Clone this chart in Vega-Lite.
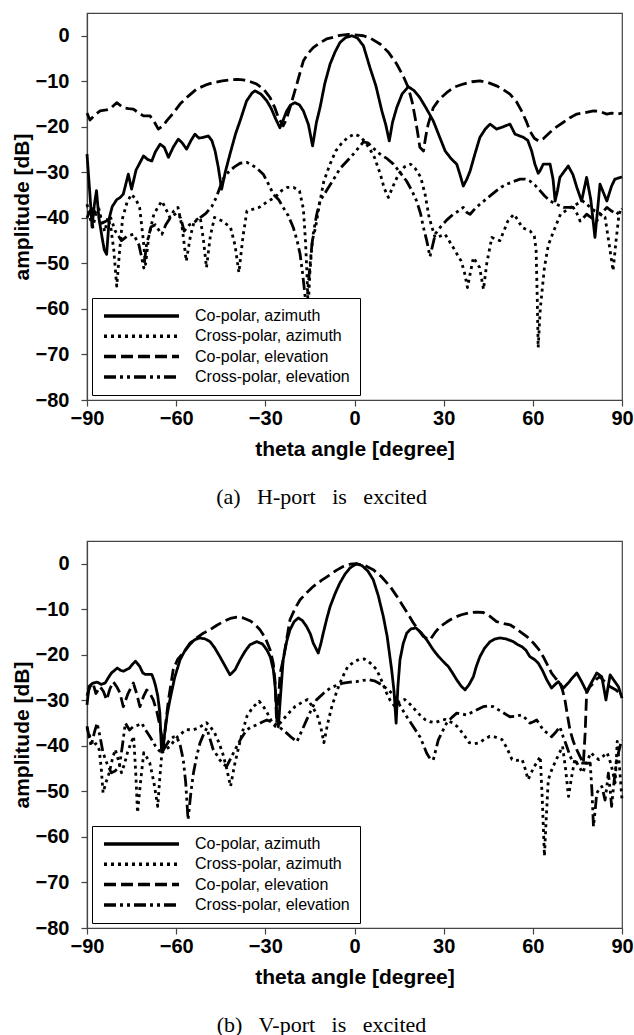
{
  "$schema": "https://vega.github.io/schema/vega-lite/v6.json",
  "padding": {"left": 10, "top": 12, "right": 5, "bottom": 0},
  "config": {
    "font": "Liberation Sans",
    "view": {"stroke": "#444", "strokeWidth": 1.2},
    "axis": {
      "grid": false,
      "labelFont": "Liberation Sans", "labelFontSize": 20, "labelFontWeight": "bold", "labelColor": "#000",
      "titleFont": "Liberation Sans", "titleFontSize": 21, "titleFontWeight": "bold", "titleColor": "#000",
      "tickSize": 6, "tickColor": "#444", "tickWidth": 1.2, "domainColor": "#444", "domainWidth": 1.2,
      "labelFlush": false, "labelOverlap": false
    },
    "axisX": {"labelPadding": 2, "titlePadding": 10},
    "axisY": {"labelPadding": 12, "titlePadding": 3},
    "concat": {"spacing": 31}
  },
  "datasets": {
    "a": [
      {"series": "Co-polar, azimuth", "theta": -90, "dB": -26}, {"series": "Co-polar, azimuth", "theta": -89, "dB": -35}, {"series": "Co-polar, azimuth", "theta": -88.3, "dB": -42}, {"series": "Co-polar, azimuth", "theta": -87.5, "dB": -37}, {"series": "Co-polar, azimuth", "theta": -86.8, "dB": -34}, {"series": "Co-polar, azimuth", "theta": -86, "dB": -40}, {"series": "Co-polar, azimuth", "theta": -85, "dB": -44}, {"series": "Co-polar, azimuth", "theta": -84.2, "dB": -47}, {"series": "Co-polar, azimuth", "theta": -83.4, "dB": -48}, {"series": "Co-polar, azimuth", "theta": -82.5, "dB": -40}, {"series": "Co-polar, azimuth", "theta": -81.5, "dB": -37.5}, {"series": "Co-polar, azimuth", "theta": -80, "dB": -36}, {"series": "Co-polar, azimuth", "theta": -78.8, "dB": -35.5}, {"series": "Co-polar, azimuth", "theta": -77.8, "dB": -34.8}, {"series": "Co-polar, azimuth", "theta": -76.1, "dB": -30.4}, {"series": "Co-polar, azimuth", "theta": -75, "dB": -33.7}, {"series": "Co-polar, azimuth", "theta": -73.5, "dB": -29.5}, {"series": "Co-polar, azimuth", "theta": -71, "dB": -26.4}, {"series": "Co-polar, azimuth", "theta": -69.5, "dB": -27.2}, {"series": "Co-polar, azimuth", "theta": -68.2, "dB": -27.5}, {"series": "Co-polar, azimuth", "theta": -67, "dB": -25.5}, {"series": "Co-polar, azimuth", "theta": -65.4, "dB": -23.8}, {"series": "Co-polar, azimuth", "theta": -64, "dB": -24.5}, {"series": "Co-polar, azimuth", "theta": -62.6, "dB": -26.7}, {"series": "Co-polar, azimuth", "theta": -61, "dB": -24.5}, {"series": "Co-polar, azimuth", "theta": -59.3, "dB": -22.7}, {"series": "Co-polar, azimuth", "theta": -58, "dB": -23.5}, {"series": "Co-polar, azimuth", "theta": -56.5, "dB": -24.9}, {"series": "Co-polar, azimuth", "theta": -55, "dB": -23}, {"series": "Co-polar, azimuth", "theta": -53.7, "dB": -21.6}, {"series": "Co-polar, azimuth", "theta": -52.3, "dB": -22.5}, {"series": "Co-polar, azimuth", "theta": -50.9, "dB": -22.3}, {"series": "Co-polar, azimuth", "theta": -49.2, "dB": -22}, {"series": "Co-polar, azimuth", "theta": -48, "dB": -23}, {"series": "Co-polar, azimuth", "theta": -46.9, "dB": -25.3}, {"series": "Co-polar, azimuth", "theta": -45.8, "dB": -29}, {"series": "Co-polar, azimuth", "theta": -44.7, "dB": -33.7}, {"series": "Co-polar, azimuth", "theta": -43.5, "dB": -30}, {"series": "Co-polar, azimuth", "theta": -41.9, "dB": -26}, {"series": "Co-polar, azimuth", "theta": -40, "dB": -21.5}, {"series": "Co-polar, azimuth", "theta": -38.5, "dB": -18.7}, {"series": "Co-polar, azimuth", "theta": -36.3, "dB": -14.3}, {"series": "Co-polar, azimuth", "theta": -34.5, "dB": -12.6}, {"series": "Co-polar, azimuth", "theta": -33.5, "dB": -12.1}, {"series": "Co-polar, azimuth", "theta": -31.5, "dB": -12.8}, {"series": "Co-polar, azimuth", "theta": -29.5, "dB": -14.3}, {"series": "Co-polar, azimuth", "theta": -28, "dB": -16}, {"series": "Co-polar, azimuth", "theta": -26.7, "dB": -18}, {"series": "Co-polar, azimuth", "theta": -25.1, "dB": -20.2}, {"series": "Co-polar, azimuth", "theta": -24, "dB": -18.5}, {"series": "Co-polar, azimuth", "theta": -22.8, "dB": -16.5}, {"series": "Co-polar, azimuth", "theta": -21.5, "dB": -15.2}, {"series": "Co-polar, azimuth", "theta": -20, "dB": -14.7}, {"series": "Co-polar, azimuth", "theta": -18.5, "dB": -15.2}, {"series": "Co-polar, azimuth", "theta": -17.2, "dB": -16.5}, {"series": "Co-polar, azimuth", "theta": -15.5, "dB": -19.5}, {"series": "Co-polar, azimuth", "theta": -14.1, "dB": -24.2}, {"series": "Co-polar, azimuth", "theta": -12.8, "dB": -19}, {"series": "Co-polar, azimuth", "theta": -11.6, "dB": -15.8}, {"series": "Co-polar, azimuth", "theta": -10, "dB": -10.5}, {"series": "Co-polar, azimuth", "theta": -8.2, "dB": -6.2}, {"series": "Co-polar, azimuth", "theta": -6.5, "dB": -3.5}, {"series": "Co-polar, azimuth", "theta": -4.9, "dB": -1.5}, {"series": "Co-polar, azimuth", "theta": -3, "dB": -0.4}, {"series": "Co-polar, azimuth", "theta": -0.9, "dB": 0}, {"series": "Co-polar, azimuth", "theta": 1, "dB": -0.5}, {"series": "Co-polar, azimuth", "theta": 3, "dB": -2.2}, {"series": "Co-polar, azimuth", "theta": 5.2, "dB": -7}, {"series": "Co-polar, azimuth", "theta": 7.2, "dB": -11}, {"series": "Co-polar, azimuth", "theta": 9.2, "dB": -16.5}, {"series": "Co-polar, azimuth", "theta": 10.5, "dB": -19.5}, {"series": "Co-polar, azimuth", "theta": 11.7, "dB": -23.1}, {"series": "Co-polar, azimuth", "theta": 12.8, "dB": -19}, {"series": "Co-polar, azimuth", "theta": 14.2, "dB": -15.8}, {"series": "Co-polar, azimuth", "theta": 16, "dB": -12.8}, {"series": "Co-polar, azimuth", "theta": 18.1, "dB": -11.2}, {"series": "Co-polar, azimuth", "theta": 20, "dB": -12}, {"series": "Co-polar, azimuth", "theta": 22, "dB": -13.6}, {"series": "Co-polar, azimuth", "theta": 24.2, "dB": -16}, {"series": "Co-polar, azimuth", "theta": 26.5, "dB": -18.7}, {"series": "Co-polar, azimuth", "theta": 28.5, "dB": -22}, {"series": "Co-polar, azimuth", "theta": 30.5, "dB": -25.3}, {"series": "Co-polar, azimuth", "theta": 32.5, "dB": -27}, {"series": "Co-polar, azimuth", "theta": 34.4, "dB": -28.2}, {"series": "Co-polar, azimuth", "theta": 35.5, "dB": -30.5}, {"series": "Co-polar, azimuth", "theta": 36.6, "dB": -33}, {"series": "Co-polar, azimuth", "theta": 37.8, "dB": -31.5}, {"series": "Co-polar, azimuth", "theta": 38.9, "dB": -29.7}, {"series": "Co-polar, azimuth", "theta": 40.5, "dB": -26}, {"series": "Co-polar, azimuth", "theta": 42.2, "dB": -22.3}, {"series": "Co-polar, azimuth", "theta": 44, "dB": -20.5}, {"series": "Co-polar, azimuth", "theta": 45.6, "dB": -19.4}, {"series": "Co-polar, azimuth", "theta": 47.8, "dB": -20.5}, {"series": "Co-polar, azimuth", "theta": 50, "dB": -20}, {"series": "Co-polar, azimuth", "theta": 52.3, "dB": -19.4}, {"series": "Co-polar, azimuth", "theta": 54, "dB": -21.6}, {"series": "Co-polar, azimuth", "theta": 56.8, "dB": -22.3}, {"series": "Co-polar, azimuth", "theta": 58.3, "dB": -23}, {"series": "Co-polar, azimuth", "theta": 59.6, "dB": -25.3}, {"series": "Co-polar, azimuth", "theta": 60.7, "dB": -28.2}, {"series": "Co-polar, azimuth", "theta": 61.8, "dB": -30.2}, {"series": "Co-polar, azimuth", "theta": 62.4, "dB": -29.7}, {"series": "Co-polar, azimuth", "theta": 63.5, "dB": -28.2}, {"series": "Co-polar, azimuth", "theta": 65.8, "dB": -28.2}, {"series": "Co-polar, azimuth", "theta": 66.8, "dB": -31.5}, {"series": "Co-polar, azimuth", "theta": 67.5, "dB": -36.3}, {"series": "Co-polar, azimuth", "theta": 68.3, "dB": -34}, {"series": "Co-polar, azimuth", "theta": 69.1, "dB": -31.1}, {"series": "Co-polar, azimuth", "theta": 71.9, "dB": -28.6}, {"series": "Co-polar, azimuth", "theta": 73.5, "dB": -30.5}, {"series": "Co-polar, azimuth", "theta": 74.8, "dB": -33.3}, {"series": "Co-polar, azimuth", "theta": 76.4, "dB": -36.3}, {"series": "Co-polar, azimuth", "theta": 78.1, "dB": -31.1}, {"series": "Co-polar, azimuth", "theta": 79.5, "dB": -36}, {"series": "Co-polar, azimuth", "theta": 80.9, "dB": -44.3}, {"series": "Co-polar, azimuth", "theta": 82.6, "dB": -32.6}, {"series": "Co-polar, azimuth", "theta": 84.9, "dB": -36.3}, {"series": "Co-polar, azimuth", "theta": 86.5, "dB": -33}, {"series": "Co-polar, azimuth", "theta": 87.6, "dB": -31.5}, {"series": "Co-polar, azimuth", "theta": 90, "dB": -31},

      {"series": "Cross-polar, azimuth", "theta": -90, "dB": -37}, {"series": "Cross-polar, azimuth", "theta": -89, "dB": -40}, {"series": "Cross-polar, azimuth", "theta": -88, "dB": -42}, {"series": "Cross-polar, azimuth", "theta": -87, "dB": -39}, {"series": "Cross-polar, azimuth", "theta": -86, "dB": -38}, {"series": "Cross-polar, azimuth", "theta": -85, "dB": -41}, {"series": "Cross-polar, azimuth", "theta": -84, "dB": -43}, {"series": "Cross-polar, azimuth", "theta": -83, "dB": -40}, {"series": "Cross-polar, azimuth", "theta": -82, "dB": -42}, {"series": "Cross-polar, azimuth", "theta": -81, "dB": -47}, {"series": "Cross-polar, azimuth", "theta": -80, "dB": -55}, {"series": "Cross-polar, azimuth", "theta": -79, "dB": -47}, {"series": "Cross-polar, azimuth", "theta": -78, "dB": -40}, {"series": "Cross-polar, azimuth", "theta": -76.5, "dB": -36.5}, {"series": "Cross-polar, azimuth", "theta": -75, "dB": -34.8}, {"series": "Cross-polar, azimuth", "theta": -73.5, "dB": -36}, {"series": "Cross-polar, azimuth", "theta": -72.3, "dB": -37.7}, {"series": "Cross-polar, azimuth", "theta": -71.2, "dB": -44}, {"series": "Cross-polar, azimuth", "theta": -70.3, "dB": -50.2}, {"series": "Cross-polar, azimuth", "theta": -69.2, "dB": -44}, {"series": "Cross-polar, azimuth", "theta": -67.5, "dB": -39.2}, {"series": "Cross-polar, azimuth", "theta": -66, "dB": -37.5}, {"series": "Cross-polar, azimuth", "theta": -64.8, "dB": -36.3}, {"series": "Cross-polar, azimuth", "theta": -63.5, "dB": -38}, {"series": "Cross-polar, azimuth", "theta": -62.1, "dB": -39.9}, {"series": "Cross-polar, azimuth", "theta": -60.8, "dB": -38.5}, {"series": "Cross-polar, azimuth", "theta": -59.4, "dB": -37.7}, {"series": "Cross-polar, azimuth", "theta": -58, "dB": -42}, {"series": "Cross-polar, azimuth", "theta": -56.6, "dB": -49.5}, {"series": "Cross-polar, azimuth", "theta": -55.2, "dB": -44}, {"series": "Cross-polar, azimuth", "theta": -53.9, "dB": -40.7}, {"series": "Cross-polar, azimuth", "theta": -51.9, "dB": -39.9}, {"series": "Cross-polar, azimuth", "theta": -50.8, "dB": -45}, {"series": "Cross-polar, azimuth", "theta": -49.8, "dB": -50.9}, {"series": "Cross-polar, azimuth", "theta": -48.5, "dB": -44}, {"series": "Cross-polar, azimuth", "theta": -47.1, "dB": -39.9}, {"series": "Cross-polar, azimuth", "theta": -44.4, "dB": -40.7}, {"series": "Cross-polar, azimuth", "theta": -41.7, "dB": -42.1}, {"series": "Cross-polar, azimuth", "theta": -40.2, "dB": -46}, {"series": "Cross-polar, azimuth", "theta": -38.9, "dB": -52}, {"series": "Cross-polar, azimuth", "theta": -37.5, "dB": -44}, {"series": "Cross-polar, azimuth", "theta": -36.2, "dB": -38.5}, {"series": "Cross-polar, azimuth", "theta": -32.1, "dB": -37.7}, {"series": "Cross-polar, azimuth", "theta": -29.5, "dB": -36.5}, {"series": "Cross-polar, azimuth", "theta": -26.7, "dB": -35.5}, {"series": "Cross-polar, azimuth", "theta": -24.5, "dB": -34}, {"series": "Cross-polar, azimuth", "theta": -22.6, "dB": -33.3}, {"series": "Cross-polar, azimuth", "theta": -20.5, "dB": -33.3}, {"series": "Cross-polar, azimuth", "theta": -18.5, "dB": -34.1}, {"series": "Cross-polar, azimuth", "theta": -17.2, "dB": -38}, {"series": "Cross-polar, azimuth", "theta": -16.5, "dB": -45}, {"series": "Cross-polar, azimuth", "theta": -16, "dB": -52}, {"series": "Cross-polar, azimuth", "theta": -15.6, "dB": -60}, {"series": "Cross-polar, azimuth", "theta": -15, "dB": -52}, {"series": "Cross-polar, azimuth", "theta": -14.2, "dB": -45}, {"series": "Cross-polar, azimuth", "theta": -13.1, "dB": -42.1}, {"series": "Cross-polar, azimuth", "theta": -11.8, "dB": -37}, {"series": "Cross-polar, azimuth", "theta": -10.3, "dB": -31.9}, {"series": "Cross-polar, azimuth", "theta": -8.3, "dB": -28.3}, {"series": "Cross-polar, azimuth", "theta": -6.3, "dB": -25.3}, {"series": "Cross-polar, azimuth", "theta": -4.2, "dB": -23.5}, {"series": "Cross-polar, azimuth", "theta": -2.2, "dB": -22.3}, {"series": "Cross-polar, azimuth", "theta": 0, "dB": -21.6}, {"series": "Cross-polar, azimuth", "theta": 1.5, "dB": -22}, {"series": "Cross-polar, azimuth", "theta": 3.3, "dB": -23.1}, {"series": "Cross-polar, azimuth", "theta": 5, "dB": -24.7}, {"series": "Cross-polar, azimuth", "theta": 6.7, "dB": -26.7}, {"series": "Cross-polar, azimuth", "theta": 8.7, "dB": -30.4}, {"series": "Cross-polar, azimuth", "theta": 10, "dB": -33.5}, {"series": "Cross-polar, azimuth", "theta": 11.4, "dB": -35.5}, {"series": "Cross-polar, azimuth", "theta": 13, "dB": -33}, {"series": "Cross-polar, azimuth", "theta": 14.8, "dB": -30.4}, {"series": "Cross-polar, azimuth", "theta": 16.8, "dB": -28.8}, {"series": "Cross-polar, azimuth", "theta": 18.9, "dB": -28.2}, {"series": "Cross-polar, azimuth", "theta": 20.5, "dB": -29.2}, {"series": "Cross-polar, azimuth", "theta": 22.3, "dB": -31.1}, {"series": "Cross-polar, azimuth", "theta": 23.8, "dB": -35}, {"series": "Cross-polar, azimuth", "theta": 25.1, "dB": -39.9}, {"series": "Cross-polar, azimuth", "theta": 27.1, "dB": -44.3}, {"series": "Cross-polar, azimuth", "theta": 28.8, "dB": -44}, {"series": "Cross-polar, azimuth", "theta": 30.5, "dB": -43.6}, {"series": "Cross-polar, azimuth", "theta": 33.2, "dB": -46.5}, {"series": "Cross-polar, azimuth", "theta": 35.9, "dB": -49.5}, {"series": "Cross-polar, azimuth", "theta": 37, "dB": -52}, {"series": "Cross-polar, azimuth", "theta": 38, "dB": -55.3}, {"series": "Cross-polar, azimuth", "theta": 39, "dB": -52}, {"series": "Cross-polar, azimuth", "theta": 40, "dB": -48.7}, {"series": "Cross-polar, azimuth", "theta": 42.1, "dB": -50.9}, {"series": "Cross-polar, azimuth", "theta": 43.4, "dB": -55.7}, {"series": "Cross-polar, azimuth", "theta": 44.5, "dB": -50}, {"series": "Cross-polar, azimuth", "theta": 46.2, "dB": -44.3}, {"series": "Cross-polar, azimuth", "theta": 48.9, "dB": -45}, {"series": "Cross-polar, azimuth", "theta": 50.5, "dB": -42.5}, {"series": "Cross-polar, azimuth", "theta": 51.6, "dB": -40.7}, {"series": "Cross-polar, azimuth", "theta": 53.6, "dB": -39.2}, {"series": "Cross-polar, azimuth", "theta": 55, "dB": -40.5}, {"series": "Cross-polar, azimuth", "theta": 56.4, "dB": -42.1}, {"series": "Cross-polar, azimuth", "theta": 59.1, "dB": -42.9}, {"series": "Cross-polar, azimuth", "theta": 60.5, "dB": -44}, {"series": "Cross-polar, azimuth", "theta": 61.1, "dB": -47}, {"series": "Cross-polar, azimuth", "theta": 61.5, "dB": -58}, {"series": "Cross-polar, azimuth", "theta": 61.8, "dB": -68.5}, {"series": "Cross-polar, azimuth", "theta": 62.5, "dB": -60}, {"series": "Cross-polar, azimuth", "theta": 63.9, "dB": -50.9}, {"series": "Cross-polar, azimuth", "theta": 65.2, "dB": -46}, {"series": "Cross-polar, azimuth", "theta": 66.6, "dB": -43.6}, {"series": "Cross-polar, azimuth", "theta": 69.3, "dB": -39.2}, {"series": "Cross-polar, azimuth", "theta": 72.7, "dB": -37.7}, {"series": "Cross-polar, azimuth", "theta": 76.8, "dB": -36.3}, {"series": "Cross-polar, azimuth", "theta": 79, "dB": -37.5}, {"series": "Cross-polar, azimuth", "theta": 80.9, "dB": -38.5}, {"series": "Cross-polar, azimuth", "theta": 82.5, "dB": -39}, {"series": "Cross-polar, azimuth", "theta": 84.3, "dB": -39.9}, {"series": "Cross-polar, azimuth", "theta": 85.5, "dB": -45}, {"series": "Cross-polar, azimuth", "theta": 87, "dB": -51.6}, {"series": "Cross-polar, azimuth", "theta": 88, "dB": -45}, {"series": "Cross-polar, azimuth", "theta": 89, "dB": -39.2}, {"series": "Cross-polar, azimuth", "theta": 90, "dB": -37.7},

      {"series": "Co-polar, elevation", "theta": -90, "dB": -17}, {"series": "Co-polar, elevation", "theta": -89, "dB": -18.5}, {"series": "Co-polar, elevation", "theta": -87.5, "dB": -17.5}, {"series": "Co-polar, elevation", "theta": -85.6, "dB": -16.5}, {"series": "Co-polar, elevation", "theta": -83.5, "dB": -16.3}, {"series": "Co-polar, elevation", "theta": -82.3, "dB": -16.1}, {"series": "Co-polar, elevation", "theta": -80, "dB": -14.7}, {"series": "Co-polar, elevation", "theta": -77.8, "dB": -15.8}, {"series": "Co-polar, elevation", "theta": -76, "dB": -16}, {"series": "Co-polar, elevation", "theta": -74.4, "dB": -16.1}, {"series": "Co-polar, elevation", "theta": -72.5, "dB": -17}, {"series": "Co-polar, elevation", "theta": -71, "dB": -17.6}, {"series": "Co-polar, elevation", "theta": -68.8, "dB": -17.6}, {"series": "Co-polar, elevation", "theta": -67.3, "dB": -19}, {"series": "Co-polar, elevation", "theta": -66, "dB": -20.5}, {"series": "Co-polar, elevation", "theta": -64.5, "dB": -19.8}, {"series": "Co-polar, elevation", "theta": -63.2, "dB": -18.7}, {"series": "Co-polar, elevation", "theta": -61, "dB": -17}, {"series": "Co-polar, elevation", "theta": -58.7, "dB": -15}, {"series": "Co-polar, elevation", "theta": -56, "dB": -13.3}, {"series": "Co-polar, elevation", "theta": -53.1, "dB": -11.7}, {"series": "Co-polar, elevation", "theta": -50, "dB": -10.8}, {"series": "Co-polar, elevation", "theta": -47.5, "dB": -10.3}, {"series": "Co-polar, elevation", "theta": -44.5, "dB": -9.9}, {"series": "Co-polar, elevation", "theta": -41.9, "dB": -9.7}, {"series": "Co-polar, elevation", "theta": -39.5, "dB": -9.6}, {"series": "Co-polar, elevation", "theta": -37.4, "dB": -9.7}, {"series": "Co-polar, elevation", "theta": -35, "dB": -10.1}, {"series": "Co-polar, elevation", "theta": -32.9, "dB": -10.6}, {"series": "Co-polar, elevation", "theta": -30.5, "dB": -11.8}, {"series": "Co-polar, elevation", "theta": -28.4, "dB": -13.6}, {"series": "Co-polar, elevation", "theta": -26.8, "dB": -15.8}, {"series": "Co-polar, elevation", "theta": -25.6, "dB": -18}, {"series": "Co-polar, elevation", "theta": -24, "dB": -19.8}, {"series": "Co-polar, elevation", "theta": -23, "dB": -18.5}, {"series": "Co-polar, elevation", "theta": -21.7, "dB": -15.8}, {"series": "Co-polar, elevation", "theta": -19.4, "dB": -10.6}, {"series": "Co-polar, elevation", "theta": -17.2, "dB": -5.5}, {"series": "Co-polar, elevation", "theta": -15.5, "dB": -3.8}, {"series": "Co-polar, elevation", "theta": -13.9, "dB": -2.6}, {"series": "Co-polar, elevation", "theta": -11.5, "dB": -1.5}, {"series": "Co-polar, elevation", "theta": -9.4, "dB": -0.7}, {"series": "Co-polar, elevation", "theta": -7, "dB": -0.3}, {"series": "Co-polar, elevation", "theta": -4.9, "dB": 0.1}, {"series": "Co-polar, elevation", "theta": -2, "dB": 0.3}, {"series": "Co-polar, elevation", "theta": 0, "dB": 0.2}, {"series": "Co-polar, elevation", "theta": 3, "dB": 0}, {"series": "Co-polar, elevation", "theta": 5.5, "dB": -0.6}, {"series": "Co-polar, elevation", "theta": 8.6, "dB": -1.8}, {"series": "Co-polar, elevation", "theta": 11.5, "dB": -3.7}, {"series": "Co-polar, elevation", "theta": 14.2, "dB": -6.2}, {"series": "Co-polar, elevation", "theta": 16.5, "dB": -9}, {"series": "Co-polar, elevation", "theta": 18.1, "dB": -11.4}, {"series": "Co-polar, elevation", "theta": 19.4, "dB": -14.5}, {"series": "Co-polar, elevation", "theta": 20.4, "dB": -18}, {"series": "Co-polar, elevation", "theta": 21.3, "dB": -21.5}, {"series": "Co-polar, elevation", "theta": 22, "dB": -24.5}, {"series": "Co-polar, elevation", "theta": 23.2, "dB": -25.3}, {"series": "Co-polar, elevation", "theta": 24, "dB": -22}, {"series": "Co-polar, elevation", "theta": 24.8, "dB": -19.4}, {"series": "Co-polar, elevation", "theta": 26.5, "dB": -15.8}, {"series": "Co-polar, elevation", "theta": 28.5, "dB": -14}, {"series": "Co-polar, elevation", "theta": 31, "dB": -12.5}, {"series": "Co-polar, elevation", "theta": 33.5, "dB": -11.3}, {"series": "Co-polar, elevation", "theta": 36.6, "dB": -10.6}, {"series": "Co-polar, elevation", "theta": 39.5, "dB": -10.1}, {"series": "Co-polar, elevation", "theta": 42.2, "dB": -9.9}, {"series": "Co-polar, elevation", "theta": 45, "dB": -10.3}, {"series": "Co-polar, elevation", "theta": 47.8, "dB": -11}, {"series": "Co-polar, elevation", "theta": 50, "dB": -11.8}, {"series": "Co-polar, elevation", "theta": 52.3, "dB": -12.8}, {"series": "Co-polar, elevation", "theta": 54.5, "dB": -14.5}, {"series": "Co-polar, elevation", "theta": 56.2, "dB": -16.5}, {"series": "Co-polar, elevation", "theta": 57.8, "dB": -18.8}, {"series": "Co-polar, elevation", "theta": 59, "dB": -20.9}, {"series": "Co-polar, elevation", "theta": 60.5, "dB": -22.5}, {"series": "Co-polar, elevation", "theta": 61.9, "dB": -23.1}, {"series": "Co-polar, elevation", "theta": 63.5, "dB": -22.6}, {"series": "Co-polar, elevation", "theta": 65.8, "dB": -21.2}, {"series": "Co-polar, elevation", "theta": 68, "dB": -20}, {"series": "Co-polar, elevation", "theta": 70.3, "dB": -19}, {"series": "Co-polar, elevation", "theta": 72.5, "dB": -18}, {"series": "Co-polar, elevation", "theta": 74.8, "dB": -17.2}, {"series": "Co-polar, elevation", "theta": 77.5, "dB": -16.9}, {"series": "Co-polar, elevation", "theta": 80.4, "dB": -16.5}, {"series": "Co-polar, elevation", "theta": 82.5, "dB": -16.6}, {"series": "Co-polar, elevation", "theta": 84.9, "dB": -17.2}, {"series": "Co-polar, elevation", "theta": 86.5, "dB": -17}, {"series": "Co-polar, elevation", "theta": 88.2, "dB": -17.2}, {"series": "Co-polar, elevation", "theta": 90, "dB": -17},

      {"series": "Cross-polar, elevation", "theta": -90, "dB": -40}, {"series": "Cross-polar, elevation", "theta": -89, "dB": -38.5}, {"series": "Cross-polar, elevation", "theta": -88, "dB": -37.7}, {"series": "Cross-polar, elevation", "theta": -87, "dB": -39}, {"series": "Cross-polar, elevation", "theta": -85.9, "dB": -39.2}, {"series": "Cross-polar, elevation", "theta": -84.5, "dB": -41}, {"series": "Cross-polar, elevation", "theta": -83, "dB": -40.5}, {"series": "Cross-polar, elevation", "theta": -82, "dB": -40}, {"series": "Cross-polar, elevation", "theta": -80.5, "dB": -42.9}, {"series": "Cross-polar, elevation", "theta": -78.4, "dB": -45}, {"series": "Cross-polar, elevation", "theta": -76.5, "dB": -44}, {"series": "Cross-polar, elevation", "theta": -74.3, "dB": -43.6}, {"series": "Cross-polar, elevation", "theta": -72.5, "dB": -46}, {"series": "Cross-polar, elevation", "theta": -71.5, "dB": -49}, {"series": "Cross-polar, elevation", "theta": -70.9, "dB": -51}, {"series": "Cross-polar, elevation", "theta": -70, "dB": -46}, {"series": "Cross-polar, elevation", "theta": -68.5, "dB": -42}, {"series": "Cross-polar, elevation", "theta": -67, "dB": -41.5}, {"series": "Cross-polar, elevation", "theta": -65.5, "dB": -43}, {"series": "Cross-polar, elevation", "theta": -64.8, "dB": -43.6}, {"series": "Cross-polar, elevation", "theta": -63.5, "dB": -41.5}, {"series": "Cross-polar, elevation", "theta": -62, "dB": -40}, {"series": "Cross-polar, elevation", "theta": -60, "dB": -39}, {"series": "Cross-polar, elevation", "theta": -58.5, "dB": -40}, {"series": "Cross-polar, elevation", "theta": -57.3, "dB": -42.9}, {"series": "Cross-polar, elevation", "theta": -55.5, "dB": -41.5}, {"series": "Cross-polar, elevation", "theta": -54, "dB": -41}, {"series": "Cross-polar, elevation", "theta": -52, "dB": -40}, {"series": "Cross-polar, elevation", "theta": -50, "dB": -39}, {"series": "Cross-polar, elevation", "theta": -48, "dB": -37.5}, {"series": "Cross-polar, elevation", "theta": -46.5, "dB": -35.5}, {"series": "Cross-polar, elevation", "theta": -45.1, "dB": -33}, {"series": "Cross-polar, elevation", "theta": -44.4, "dB": -31.6}, {"series": "Cross-polar, elevation", "theta": -42.5, "dB": -30}, {"series": "Cross-polar, elevation", "theta": -40.4, "dB": -28.8}, {"series": "Cross-polar, elevation", "theta": -38.5, "dB": -28}, {"series": "Cross-polar, elevation", "theta": -36.3, "dB": -27.8}, {"series": "Cross-polar, elevation", "theta": -35, "dB": -28.2}, {"series": "Cross-polar, elevation", "theta": -33, "dB": -29}, {"series": "Cross-polar, elevation", "theta": -30.7, "dB": -30.4}, {"series": "Cross-polar, elevation", "theta": -29, "dB": -32.5}, {"series": "Cross-polar, elevation", "theta": -27.3, "dB": -34.8}, {"series": "Cross-polar, elevation", "theta": -25.5, "dB": -36}, {"series": "Cross-polar, elevation", "theta": -24, "dB": -37.7}, {"series": "Cross-polar, elevation", "theta": -22.3, "dB": -39.5}, {"series": "Cross-polar, elevation", "theta": -20.6, "dB": -42.1}, {"series": "Cross-polar, elevation", "theta": -19.3, "dB": -45}, {"series": "Cross-polar, elevation", "theta": -18.3, "dB": -48}, {"series": "Cross-polar, elevation", "theta": -17.5, "dB": -52}, {"series": "Cross-polar, elevation", "theta": -16.7, "dB": -56.7}, {"series": "Cross-polar, elevation", "theta": -16.2, "dB": -60}, {"series": "Cross-polar, elevation", "theta": -15.2, "dB": -52}, {"series": "Cross-polar, elevation", "theta": -14.5, "dB": -47}, {"series": "Cross-polar, elevation", "theta": -13.9, "dB": -43.6}, {"series": "Cross-polar, elevation", "theta": -12.8, "dB": -39.5}, {"series": "Cross-polar, elevation", "theta": -11.6, "dB": -36.3}, {"series": "Cross-polar, elevation", "theta": -9.4, "dB": -34}, {"series": "Cross-polar, elevation", "theta": -7, "dB": -31.5}, {"series": "Cross-polar, elevation", "theta": -4.9, "dB": -29.2}, {"series": "Cross-polar, elevation", "theta": -2.5, "dB": -27.5}, {"series": "Cross-polar, elevation", "theta": -0.4, "dB": -26}, {"series": "Cross-polar, elevation", "theta": 1.5, "dB": -24.5}, {"series": "Cross-polar, elevation", "theta": 3, "dB": -23.3}, {"series": "Cross-polar, elevation", "theta": 4.5, "dB": -23.5}, {"series": "Cross-polar, elevation", "theta": 6.5, "dB": -24.8}, {"series": "Cross-polar, elevation", "theta": 8.6, "dB": -26}, {"series": "Cross-polar, elevation", "theta": 11, "dB": -27}, {"series": "Cross-polar, elevation", "theta": 13.1, "dB": -28.2}, {"series": "Cross-polar, elevation", "theta": 15.3, "dB": -30}, {"series": "Cross-polar, elevation", "theta": 17.5, "dB": -31.9}, {"series": "Cross-polar, elevation", "theta": 19.3, "dB": -34}, {"series": "Cross-polar, elevation", "theta": 20.9, "dB": -36.3}, {"series": "Cross-polar, elevation", "theta": 22.2, "dB": -39}, {"series": "Cross-polar, elevation", "theta": 23.2, "dB": -42.1}, {"series": "Cross-polar, elevation", "theta": 24.3, "dB": -45}, {"series": "Cross-polar, elevation", "theta": 25.4, "dB": -48.5}, {"series": "Cross-polar, elevation", "theta": 26.3, "dB": -46}, {"series": "Cross-polar, elevation", "theta": 27.2, "dB": -43.5}, {"series": "Cross-polar, elevation", "theta": 28.8, "dB": -42.1}, {"series": "Cross-polar, elevation", "theta": 31, "dB": -40.5}, {"series": "Cross-polar, elevation", "theta": 33.2, "dB": -39.2}, {"series": "Cross-polar, elevation", "theta": 35, "dB": -38.5}, {"series": "Cross-polar, elevation", "theta": 36.6, "dB": -37.7}, {"series": "Cross-polar, elevation", "theta": 37.8, "dB": -38.8}, {"series": "Cross-polar, elevation", "theta": 38.9, "dB": -39.2}, {"series": "Cross-polar, elevation", "theta": 40.5, "dB": -38}, {"series": "Cross-polar, elevation", "theta": 42.2, "dB": -37}, {"series": "Cross-polar, elevation", "theta": 45, "dB": -35.5}, {"series": "Cross-polar, elevation", "theta": 47.8, "dB": -34}, {"series": "Cross-polar, elevation", "theta": 49.5, "dB": -33.2}, {"series": "Cross-polar, elevation", "theta": 51.2, "dB": -32.6}, {"series": "Cross-polar, elevation", "theta": 53.5, "dB": -32}, {"series": "Cross-polar, elevation", "theta": 55.7, "dB": -31.5}, {"series": "Cross-polar, elevation", "theta": 57.5, "dB": -31.5}, {"series": "Cross-polar, elevation", "theta": 59, "dB": -31.9}, {"series": "Cross-polar, elevation", "theta": 60.7, "dB": -32.8}, {"series": "Cross-polar, elevation", "theta": 62.4, "dB": -34}, {"series": "Cross-polar, elevation", "theta": 64, "dB": -35.2}, {"series": "Cross-polar, elevation", "theta": 65.8, "dB": -36.3}, {"series": "Cross-polar, elevation", "theta": 68, "dB": -37}, {"series": "Cross-polar, elevation", "theta": 70.3, "dB": -37.7}, {"series": "Cross-polar, elevation", "theta": 73.6, "dB": -37.7}, {"series": "Cross-polar, elevation", "theta": 74.8, "dB": -39}, {"series": "Cross-polar, elevation", "theta": 75.9, "dB": -40.7}, {"series": "Cross-polar, elevation", "theta": 77, "dB": -40}, {"series": "Cross-polar, elevation", "theta": 78.1, "dB": -39.2}, {"series": "Cross-polar, elevation", "theta": 79.8, "dB": -40}, {"series": "Cross-polar, elevation", "theta": 81.5, "dB": -40.7}, {"series": "Cross-polar, elevation", "theta": 83.2, "dB": -39}, {"series": "Cross-polar, elevation", "theta": 84.9, "dB": -37.7}, {"series": "Cross-polar, elevation", "theta": 86.5, "dB": -38.5}, {"series": "Cross-polar, elevation", "theta": 88.2, "dB": -39.2}, {"series": "Cross-polar, elevation", "theta": 90, "dB": -38}
    ],
    "b": [
      {"series": "Co-polar, azimuth", "theta": -90, "dB": -31}, {"series": "Co-polar, azimuth", "theta": -89.3, "dB": -26.9}, {"series": "Co-polar, azimuth", "theta": -88, "dB": -26.2}, {"series": "Co-polar, azimuth", "theta": -86.6, "dB": -26}, {"series": "Co-polar, azimuth", "theta": -85.2, "dB": -26.5}, {"series": "Co-polar, azimuth", "theta": -83.9, "dB": -26.2}, {"series": "Co-polar, azimuth", "theta": -82.8, "dB": -25}, {"series": "Co-polar, azimuth", "theta": -81.8, "dB": -24}, {"series": "Co-polar, azimuth", "theta": -79.8, "dB": -22.9}, {"series": "Co-polar, azimuth", "theta": -78.7, "dB": -23.4}, {"series": "Co-polar, azimuth", "theta": -77.7, "dB": -23.6}, {"series": "Co-polar, azimuth", "theta": -75.7, "dB": -22.9}, {"series": "Co-polar, azimuth", "theta": -74.6, "dB": -22}, {"series": "Co-polar, azimuth", "theta": -73.7, "dB": -21.4}, {"series": "Co-polar, azimuth", "theta": -72.3, "dB": -22.5}, {"series": "Co-polar, azimuth", "theta": -71.2, "dB": -24}, {"series": "Co-polar, azimuth", "theta": -70.3, "dB": -24.3}, {"series": "Co-polar, azimuth", "theta": -68.2, "dB": -24.3}, {"series": "Co-polar, azimuth", "theta": -67.5, "dB": -25.5}, {"series": "Co-polar, azimuth", "theta": -66.9, "dB": -26.9}, {"series": "Co-polar, azimuth", "theta": -66.2, "dB": -29}, {"series": "Co-polar, azimuth", "theta": -65.5, "dB": -32.7}, {"series": "Co-polar, azimuth", "theta": -64.9, "dB": -41.3}, {"series": "Co-polar, azimuth", "theta": -64, "dB": -38}, {"series": "Co-polar, azimuth", "theta": -63, "dB": -33}, {"series": "Co-polar, azimuth", "theta": -62.1, "dB": -29.9}, {"series": "Co-polar, azimuth", "theta": -60.5, "dB": -25}, {"series": "Co-polar, azimuth", "theta": -58.7, "dB": -21.1}, {"series": "Co-polar, azimuth", "theta": -57, "dB": -19}, {"series": "Co-polar, azimuth", "theta": -55.3, "dB": -17.4}, {"series": "Co-polar, azimuth", "theta": -53.5, "dB": -16.6}, {"series": "Co-polar, azimuth", "theta": -52, "dB": -16.3}, {"series": "Co-polar, azimuth", "theta": -50.3, "dB": -16.5}, {"series": "Co-polar, azimuth", "theta": -48.6, "dB": -17.1}, {"series": "Co-polar, azimuth", "theta": -47, "dB": -18.5}, {"series": "Co-polar, azimuth", "theta": -45.3, "dB": -20.4}, {"series": "Co-polar, azimuth", "theta": -43.5, "dB": -22.5}, {"series": "Co-polar, azimuth", "theta": -41.9, "dB": -24.4}, {"series": "Co-polar, azimuth", "theta": -40.2, "dB": -23.3}, {"series": "Co-polar, azimuth", "theta": -38.5, "dB": -21.1}, {"series": "Co-polar, azimuth", "theta": -36.8, "dB": -19.2}, {"series": "Co-polar, azimuth", "theta": -35.2, "dB": -17.8}, {"series": "Co-polar, azimuth", "theta": -32.9, "dB": -17.1}, {"series": "Co-polar, azimuth", "theta": -31, "dB": -17.6}, {"series": "Co-polar, azimuth", "theta": -29.5, "dB": -18.9}, {"series": "Co-polar, azimuth", "theta": -28.3, "dB": -20.5}, {"series": "Co-polar, azimuth", "theta": -27.3, "dB": -23.3}, {"series": "Co-polar, azimuth", "theta": -26.7, "dB": -27}, {"series": "Co-polar, azimuth", "theta": -26.2, "dB": -32.1}, {"series": "Co-polar, azimuth", "theta": -25.6, "dB": -35.8}, {"series": "Co-polar, azimuth", "theta": -25, "dB": -30}, {"series": "Co-polar, azimuth", "theta": -24, "dB": -21.1}, {"series": "Co-polar, azimuth", "theta": -22.8, "dB": -17}, {"series": "Co-polar, azimuth", "theta": -21.7, "dB": -14.5}, {"series": "Co-polar, azimuth", "theta": -20.3, "dB": -12.7}, {"series": "Co-polar, azimuth", "theta": -18.9, "dB": -11.9}, {"series": "Co-polar, azimuth", "theta": -17.5, "dB": -12.5}, {"series": "Co-polar, azimuth", "theta": -16.1, "dB": -13.8}, {"series": "Co-polar, azimuth", "theta": -14.8, "dB": -15.5}, {"series": "Co-polar, azimuth", "theta": -13.9, "dB": -17.4}, {"series": "Co-polar, azimuth", "theta": -12.2, "dB": -19.6}, {"series": "Co-polar, azimuth", "theta": -11.3, "dB": -17.5}, {"series": "Co-polar, azimuth", "theta": -10.5, "dB": -15.2}, {"series": "Co-polar, azimuth", "theta": -9.3, "dB": -12}, {"series": "Co-polar, azimuth", "theta": -8.2, "dB": -9.4}, {"series": "Co-polar, azimuth", "theta": -6.5, "dB": -6.5}, {"series": "Co-polar, azimuth", "theta": -4.9, "dB": -4.2}, {"series": "Co-polar, azimuth", "theta": -3.2, "dB": -2.3}, {"series": "Co-polar, azimuth", "theta": -1.5, "dB": -0.9}, {"series": "Co-polar, azimuth", "theta": 0.7, "dB": 0}, {"series": "Co-polar, azimuth", "theta": 2.5, "dB": -0.4}, {"series": "Co-polar, azimuth", "theta": 4.5, "dB": -1.6}, {"series": "Co-polar, azimuth", "theta": 6.3, "dB": -3.5}, {"series": "Co-polar, azimuth", "theta": 8, "dB": -7}, {"series": "Co-polar, azimuth", "theta": 9.7, "dB": -11.6}, {"series": "Co-polar, azimuth", "theta": 11, "dB": -16}, {"series": "Co-polar, azimuth", "theta": 12.5, "dB": -23.3}, {"series": "Co-polar, azimuth", "theta": 13.3, "dB": -28}, {"series": "Co-polar, azimuth", "theta": 14, "dB": -35}, {"series": "Co-polar, azimuth", "theta": 14.6, "dB": -27}, {"series": "Co-polar, azimuth", "theta": 15.3, "dB": -21.1}, {"series": "Co-polar, azimuth", "theta": 16.4, "dB": -17.5}, {"series": "Co-polar, azimuth", "theta": 17.6, "dB": -15.2}, {"series": "Co-polar, azimuth", "theta": 19, "dB": -14.3}, {"series": "Co-polar, azimuth", "theta": 20.7, "dB": -14.1}, {"series": "Co-polar, azimuth", "theta": 22.5, "dB": -15.2}, {"series": "Co-polar, azimuth", "theta": 24.3, "dB": -16.7}, {"series": "Co-polar, azimuth", "theta": 26.5, "dB": -18.9}, {"series": "Co-polar, azimuth", "theta": 28.2, "dB": -20.3}, {"series": "Co-polar, azimuth", "theta": 29.9, "dB": -21.5}, {"series": "Co-polar, azimuth", "theta": 31.6, "dB": -22.6}, {"series": "Co-polar, azimuth", "theta": 33, "dB": -24}, {"series": "Co-polar, azimuth", "theta": 34.4, "dB": -25.5}, {"series": "Co-polar, azimuth", "theta": 35.8, "dB": -26.8}, {"series": "Co-polar, azimuth", "theta": 37.2, "dB": -27.7}, {"series": "Co-polar, azimuth", "theta": 38.6, "dB": -26.5}, {"series": "Co-polar, azimuth", "theta": 40, "dB": -24.8}, {"series": "Co-polar, azimuth", "theta": 41, "dB": -22.5}, {"series": "Co-polar, azimuth", "theta": 42.2, "dB": -20.4}, {"series": "Co-polar, azimuth", "theta": 43.8, "dB": -18.5}, {"series": "Co-polar, azimuth", "theta": 45.6, "dB": -17.1}, {"series": "Co-polar, azimuth", "theta": 47.3, "dB": -16.5}, {"series": "Co-polar, azimuth", "theta": 49, "dB": -16.3}, {"series": "Co-polar, azimuth", "theta": 51, "dB": -16.5}, {"series": "Co-polar, azimuth", "theta": 53.4, "dB": -17.1}, {"series": "Co-polar, azimuth", "theta": 55, "dB": -17.8}, {"series": "Co-polar, azimuth", "theta": 56.3, "dB": -18.2}, {"series": "Co-polar, azimuth", "theta": 57.7, "dB": -19}, {"series": "Co-polar, azimuth", "theta": 59, "dB": -20.4}, {"series": "Co-polar, azimuth", "theta": 60.5, "dB": -21}, {"series": "Co-polar, azimuth", "theta": 61.8, "dB": -21.8}, {"series": "Co-polar, azimuth", "theta": 63.3, "dB": -23.5}, {"series": "Co-polar, azimuth", "theta": 64.7, "dB": -25.5}, {"series": "Co-polar, azimuth", "theta": 66.3, "dB": -27.3}, {"series": "Co-polar, azimuth", "theta": 67.5, "dB": -26.5}, {"series": "Co-polar, azimuth", "theta": 68.6, "dB": -25.9}, {"series": "Co-polar, azimuth", "theta": 70.3, "dB": -27.3}, {"series": "Co-polar, azimuth", "theta": 71.9, "dB": -26.2}, {"series": "Co-polar, azimuth", "theta": 73.4, "dB": -25}, {"series": "Co-polar, azimuth", "theta": 74.8, "dB": -24}, {"series": "Co-polar, azimuth", "theta": 76.5, "dB": -26}, {"series": "Co-polar, azimuth", "theta": 78.1, "dB": -28.1}, {"series": "Co-polar, azimuth", "theta": 79.8, "dB": -26}, {"series": "Co-polar, azimuth", "theta": 81.5, "dB": -24}, {"series": "Co-polar, azimuth", "theta": 83.2, "dB": -24.8}, {"series": "Co-polar, azimuth", "theta": 84.6, "dB": -29.9}, {"series": "Co-polar, azimuth", "theta": 86, "dB": -24.4}, {"series": "Co-polar, azimuth", "theta": 87.6, "dB": -25.9}, {"series": "Co-polar, azimuth", "theta": 88.8, "dB": -27}, {"series": "Co-polar, azimuth", "theta": 90, "dB": -29.5},

      {"series": "Cross-polar, azimuth", "theta": -90, "dB": -36}, {"series": "Cross-polar, azimuth", "theta": -89, "dB": -38}, {"series": "Cross-polar, azimuth", "theta": -88, "dB": -40}, {"series": "Cross-polar, azimuth", "theta": -87, "dB": -39.5}, {"series": "Cross-polar, azimuth", "theta": -85.9, "dB": -40.8}, {"series": "Cross-polar, azimuth", "theta": -85.2, "dB": -45}, {"series": "Cross-polar, azimuth", "theta": -84.6, "dB": -50.3}, {"series": "Cross-polar, azimuth", "theta": -83.6, "dB": -48}, {"series": "Cross-polar, azimuth", "theta": -82.5, "dB": -45.9}, {"series": "Cross-polar, azimuth", "theta": -81.5, "dB": -43}, {"series": "Cross-polar, azimuth", "theta": -80.5, "dB": -40.8}, {"series": "Cross-polar, azimuth", "theta": -79.5, "dB": -43}, {"series": "Cross-polar, azimuth", "theta": -78.4, "dB": -45.9}, {"series": "Cross-polar, azimuth", "theta": -77.4, "dB": -44}, {"series": "Cross-polar, azimuth", "theta": -76.4, "dB": -41.5}, {"series": "Cross-polar, azimuth", "theta": -75.3, "dB": -39.5}, {"series": "Cross-polar, azimuth", "theta": -74.3, "dB": -37.9}, {"series": "Cross-polar, azimuth", "theta": -73.6, "dB": -46}, {"series": "Cross-polar, azimuth", "theta": -73, "dB": -54.7}, {"series": "Cross-polar, azimuth", "theta": -72, "dB": -48}, {"series": "Cross-polar, azimuth", "theta": -70.9, "dB": -41.5}, {"series": "Cross-polar, azimuth", "theta": -69.9, "dB": -42.5}, {"series": "Cross-polar, azimuth", "theta": -68.9, "dB": -43.7}, {"series": "Cross-polar, azimuth", "theta": -67.5, "dB": -48}, {"series": "Cross-polar, azimuth", "theta": -66.2, "dB": -53.3}, {"series": "Cross-polar, azimuth", "theta": -65.5, "dB": -47}, {"series": "Cross-polar, azimuth", "theta": -64.8, "dB": -41.5}, {"series": "Cross-polar, azimuth", "theta": -62.1, "dB": -40.1}, {"series": "Cross-polar, azimuth", "theta": -60.8, "dB": -39}, {"series": "Cross-polar, azimuth", "theta": -59.4, "dB": -37.9}, {"series": "Cross-polar, azimuth", "theta": -56.6, "dB": -36.4}, {"series": "Cross-polar, azimuth", "theta": -54.5, "dB": -36.5}, {"series": "Cross-polar, azimuth", "theta": -52.6, "dB": -36.1}, {"series": "Cross-polar, azimuth", "theta": -49.8, "dB": -34.9}, {"series": "Cross-polar, azimuth", "theta": -48.5, "dB": -35.8}, {"series": "Cross-polar, azimuth", "theta": -47.1, "dB": -37.1}, {"series": "Cross-polar, azimuth", "theta": -45.8, "dB": -39}, {"series": "Cross-polar, azimuth", "theta": -44.4, "dB": -41.5}, {"series": "Cross-polar, azimuth", "theta": -43, "dB": -45}, {"series": "Cross-polar, azimuth", "theta": -41.7, "dB": -48.9}, {"series": "Cross-polar, azimuth", "theta": -40.3, "dB": -44}, {"series": "Cross-polar, azimuth", "theta": -38.9, "dB": -40.1}, {"series": "Cross-polar, azimuth", "theta": -37.5, "dB": -36.5}, {"series": "Cross-polar, azimuth", "theta": -36.2, "dB": -33.5}, {"series": "Cross-polar, azimuth", "theta": -34.2, "dB": -31.5}, {"series": "Cross-polar, azimuth", "theta": -32.1, "dB": -30.2}, {"series": "Cross-polar, azimuth", "theta": -30.8, "dB": -31.2}, {"series": "Cross-polar, azimuth", "theta": -29.4, "dB": -32.7}, {"series": "Cross-polar, azimuth", "theta": -28, "dB": -34.5}, {"series": "Cross-polar, azimuth", "theta": -26.7, "dB": -35.7}, {"series": "Cross-polar, azimuth", "theta": -25.3, "dB": -35.2}, {"series": "Cross-polar, azimuth", "theta": -24, "dB": -34.2}, {"series": "Cross-polar, azimuth", "theta": -22, "dB": -32.7}, {"series": "Cross-polar, azimuth", "theta": -19.9, "dB": -31.3}, {"series": "Cross-polar, azimuth", "theta": -17.8, "dB": -30.5}, {"series": "Cross-polar, azimuth", "theta": -15.8, "dB": -29.8}, {"series": "Cross-polar, azimuth", "theta": -14, "dB": -31.5}, {"series": "Cross-polar, azimuth", "theta": -12.4, "dB": -33.5}, {"series": "Cross-polar, azimuth", "theta": -11.3, "dB": -36}, {"series": "Cross-polar, azimuth", "theta": -10.3, "dB": -39.3}, {"series": "Cross-polar, azimuth", "theta": -9, "dB": -35}, {"series": "Cross-polar, azimuth", "theta": -7.6, "dB": -31.3}, {"series": "Cross-polar, azimuth", "theta": -6.2, "dB": -28.5}, {"series": "Cross-polar, azimuth", "theta": -4.9, "dB": -26.2}, {"series": "Cross-polar, azimuth", "theta": -3.5, "dB": -24.2}, {"series": "Cross-polar, azimuth", "theta": -2.2, "dB": -22.5}, {"series": "Cross-polar, azimuth", "theta": 0, "dB": -21.5}, {"series": "Cross-polar, azimuth", "theta": 1.5, "dB": -21}, {"series": "Cross-polar, azimuth", "theta": 3.3, "dB": -20.9}, {"series": "Cross-polar, azimuth", "theta": 5.3, "dB": -21.8}, {"series": "Cross-polar, azimuth", "theta": 7.4, "dB": -23.2}, {"series": "Cross-polar, azimuth", "theta": 9, "dB": -25.5}, {"series": "Cross-polar, azimuth", "theta": 10.8, "dB": -28.4}, {"series": "Cross-polar, azimuth", "theta": 12, "dB": -30}, {"series": "Cross-polar, azimuth", "theta": 13.5, "dB": -31.3}, {"series": "Cross-polar, azimuth", "theta": 15.2, "dB": -30.2}, {"series": "Cross-polar, azimuth", "theta": 16.9, "dB": -29.8}, {"series": "Cross-polar, azimuth", "theta": 18.6, "dB": -30.8}, {"series": "Cross-polar, azimuth", "theta": 20.3, "dB": -32}, {"series": "Cross-polar, azimuth", "theta": 22, "dB": -33.2}, {"series": "Cross-polar, azimuth", "theta": 23.7, "dB": -34.2}, {"series": "Cross-polar, azimuth", "theta": 25.4, "dB": -34.7}, {"series": "Cross-polar, azimuth", "theta": 27.1, "dB": -34.9}, {"series": "Cross-polar, azimuth", "theta": 28.8, "dB": -34.5}, {"series": "Cross-polar, azimuth", "theta": 30.5, "dB": -34.2}, {"series": "Cross-polar, azimuth", "theta": 32.5, "dB": -34.8}, {"series": "Cross-polar, azimuth", "theta": 34.5, "dB": -35.7}, {"series": "Cross-polar, azimuth", "theta": 36.5, "dB": -37.3}, {"series": "Cross-polar, azimuth", "theta": 38.6, "dB": -39.3}, {"series": "Cross-polar, azimuth", "theta": 40.3, "dB": -39.5}, {"series": "Cross-polar, azimuth", "theta": 42.1, "dB": -39.3}, {"series": "Cross-polar, azimuth", "theta": 43.8, "dB": -38.5}, {"series": "Cross-polar, azimuth", "theta": 45.5, "dB": -37.9}, {"series": "Cross-polar, azimuth", "theta": 47.5, "dB": -38.1}, {"series": "Cross-polar, azimuth", "theta": 49.6, "dB": -38.6}, {"series": "Cross-polar, azimuth", "theta": 51.3, "dB": -40.5}, {"series": "Cross-polar, azimuth", "theta": 53, "dB": -43}, {"series": "Cross-polar, azimuth", "theta": 54.7, "dB": -43.2}, {"series": "Cross-polar, azimuth", "theta": 56.4, "dB": -43}, {"series": "Cross-polar, azimuth", "theta": 57.4, "dB": -45}, {"series": "Cross-polar, azimuth", "theta": 58.4, "dB": -47.4}, {"series": "Cross-polar, azimuth", "theta": 59.4, "dB": -46}, {"series": "Cross-polar, azimuth", "theta": 60.5, "dB": -44.5}, {"series": "Cross-polar, azimuth", "theta": 61.5, "dB": -43.5}, {"series": "Cross-polar, azimuth", "theta": 62.5, "dB": -42.3}, {"series": "Cross-polar, azimuth", "theta": 63.2, "dB": -52}, {"series": "Cross-polar, azimuth", "theta": 63.9, "dB": -64.2}, {"series": "Cross-polar, azimuth", "theta": 64.5, "dB": -56}, {"series": "Cross-polar, azimuth", "theta": 65.2, "dB": -47.4}, {"series": "Cross-polar, azimuth", "theta": 66.5, "dB": -45}, {"series": "Cross-polar, azimuth", "theta": 67.9, "dB": -43}, {"series": "Cross-polar, azimuth", "theta": 69, "dB": -41.5}, {"series": "Cross-polar, azimuth", "theta": 70, "dB": -40.1}, {"series": "Cross-polar, azimuth", "theta": 71, "dB": -45}, {"series": "Cross-polar, azimuth", "theta": 72, "dB": -51.1}, {"series": "Cross-polar, azimuth", "theta": 73, "dB": -47}, {"series": "Cross-polar, azimuth", "theta": 74.1, "dB": -43}, {"series": "Cross-polar, azimuth", "theta": 75.5, "dB": -44.5}, {"series": "Cross-polar, azimuth", "theta": 76.8, "dB": -45.9}, {"series": "Cross-polar, azimuth", "theta": 78.2, "dB": -43.5}, {"series": "Cross-polar, azimuth", "theta": 79.5, "dB": -41.5}, {"series": "Cross-polar, azimuth", "theta": 80.8, "dB": -42.3}, {"series": "Cross-polar, azimuth", "theta": 82.2, "dB": -43}, {"series": "Cross-polar, azimuth", "theta": 83.6, "dB": -42.3}, {"series": "Cross-polar, azimuth", "theta": 85, "dB": -41.5}, {"series": "Cross-polar, azimuth", "theta": 86.3, "dB": -44}, {"series": "Cross-polar, azimuth", "theta": 87.7, "dB": -48.1}, {"series": "Cross-polar, azimuth", "theta": 88.4, "dB": -39}, {"series": "Cross-polar, azimuth", "theta": 89.2, "dB": -45}, {"series": "Cross-polar, azimuth", "theta": 90, "dB": -51.8},

      {"series": "Co-polar, elevation", "theta": -90, "dB": -29}, {"series": "Co-polar, elevation", "theta": -89, "dB": -27}, {"series": "Co-polar, elevation", "theta": -88, "dB": -26.2}, {"series": "Co-polar, elevation", "theta": -87, "dB": -28.5}, {"series": "Co-polar, elevation", "theta": -85.6, "dB": -27}, {"series": "Co-polar, elevation", "theta": -84.5, "dB": -28}, {"series": "Co-polar, elevation", "theta": -83.4, "dB": -29.9}, {"series": "Co-polar, elevation", "theta": -82.3, "dB": -27.5}, {"series": "Co-polar, elevation", "theta": -81.2, "dB": -25.9}, {"series": "Co-polar, elevation", "theta": -80, "dB": -27}, {"series": "Co-polar, elevation", "theta": -78.9, "dB": -28.4}, {"series": "Co-polar, elevation", "theta": -77.8, "dB": -31.4}, {"series": "Co-polar, elevation", "theta": -76.2, "dB": -28.5}, {"series": "Co-polar, elevation", "theta": -74.4, "dB": -26.2}, {"series": "Co-polar, elevation", "theta": -73.3, "dB": -28.5}, {"series": "Co-polar, elevation", "theta": -72.2, "dB": -31.4}, {"series": "Co-polar, elevation", "theta": -70.9, "dB": -29}, {"series": "Co-polar, elevation", "theta": -69.9, "dB": -27.7}, {"series": "Co-polar, elevation", "theta": -68.8, "dB": -28.5}, {"series": "Co-polar, elevation", "theta": -67.7, "dB": -29.9}, {"series": "Co-polar, elevation", "theta": -66.5, "dB": -32.5}, {"series": "Co-polar, elevation", "theta": -65.4, "dB": -35.8}, {"series": "Co-polar, elevation", "theta": -64.3, "dB": -40.1}, {"series": "Co-polar, elevation", "theta": -63.5, "dB": -35}, {"series": "Co-polar, elevation", "theta": -62.6, "dB": -29.9}, {"series": "Co-polar, elevation", "theta": -61, "dB": -23.3}, {"series": "Co-polar, elevation", "theta": -59.5, "dB": -21}, {"series": "Co-polar, elevation", "theta": -57.6, "dB": -19.6}, {"series": "Co-polar, elevation", "theta": -55.5, "dB": -17.8}, {"series": "Co-polar, elevation", "theta": -53.1, "dB": -16.3}, {"series": "Co-polar, elevation", "theta": -51, "dB": -15.3}, {"series": "Co-polar, elevation", "theta": -48.6, "dB": -14.5}, {"series": "Co-polar, elevation", "theta": -46.3, "dB": -13.5}, {"series": "Co-polar, elevation", "theta": -44.1, "dB": -12.7}, {"series": "Co-polar, elevation", "theta": -41.8, "dB": -12}, {"series": "Co-polar, elevation", "theta": -39.6, "dB": -11.7}, {"series": "Co-polar, elevation", "theta": -37.4, "dB": -11.9}, {"series": "Co-polar, elevation", "theta": -35.2, "dB": -12.5}, {"series": "Co-polar, elevation", "theta": -33.5, "dB": -13.3}, {"series": "Co-polar, elevation", "theta": -31.8, "dB": -14.5}, {"series": "Co-polar, elevation", "theta": -30, "dB": -16.3}, {"series": "Co-polar, elevation", "theta": -28.4, "dB": -18.9}, {"series": "Co-polar, elevation", "theta": -27.3, "dB": -22}, {"series": "Co-polar, elevation", "theta": -26.7, "dB": -26}, {"series": "Co-polar, elevation", "theta": -26.2, "dB": -35}, {"series": "Co-polar, elevation", "theta": -25.6, "dB": -30}, {"series": "Co-polar, elevation", "theta": -25, "dB": -24}, {"series": "Co-polar, elevation", "theta": -24, "dB": -21.1}, {"series": "Co-polar, elevation", "theta": -22.8, "dB": -16.5}, {"series": "Co-polar, elevation", "theta": -21.7, "dB": -12.3}, {"series": "Co-polar, elevation", "theta": -20, "dB": -9.8}, {"series": "Co-polar, elevation", "theta": -18.3, "dB": -7.9}, {"series": "Co-polar, elevation", "theta": -16, "dB": -6.3}, {"series": "Co-polar, elevation", "theta": -13.9, "dB": -5}, {"series": "Co-polar, elevation", "theta": -11, "dB": -3.6}, {"series": "Co-polar, elevation", "theta": -8.2, "dB": -2.4}, {"series": "Co-polar, elevation", "theta": -6, "dB": -1.4}, {"series": "Co-polar, elevation", "theta": -3.8, "dB": -0.6}, {"series": "Co-polar, elevation", "theta": -1.5, "dB": -0.1}, {"series": "Co-polar, elevation", "theta": 0.7, "dB": 0}, {"series": "Co-polar, elevation", "theta": 3.5, "dB": -0.4}, {"series": "Co-polar, elevation", "theta": 6.3, "dB": -1.3}, {"series": "Co-polar, elevation", "theta": 9, "dB": -2.8}, {"series": "Co-polar, elevation", "theta": 12, "dB": -5}, {"series": "Co-polar, elevation", "theta": 14.2, "dB": -7.1}, {"series": "Co-polar, elevation", "theta": 16.4, "dB": -9.4}, {"series": "Co-polar, elevation", "theta": 18.2, "dB": -11.2}, {"series": "Co-polar, elevation", "theta": 19.8, "dB": -13}, {"series": "Co-polar, elevation", "theta": 21.5, "dB": -14.5}, {"series": "Co-polar, elevation", "theta": 23.2, "dB": -16}, {"series": "Co-polar, elevation", "theta": 25.4, "dB": -16.7}, {"series": "Co-polar, elevation", "theta": 27, "dB": -15.2}, {"series": "Co-polar, elevation", "theta": 28.8, "dB": -13.8}, {"series": "Co-polar, elevation", "theta": 31, "dB": -12.8}, {"series": "Co-polar, elevation", "theta": 33.2, "dB": -11.9}, {"series": "Co-polar, elevation", "theta": 36, "dB": -11.2}, {"series": "Co-polar, elevation", "theta": 38.9, "dB": -10.7}, {"series": "Co-polar, elevation", "theta": 41, "dB": -10.6}, {"series": "Co-polar, elevation", "theta": 43.3, "dB": -10.7}, {"series": "Co-polar, elevation", "theta": 45.5, "dB": -11.5}, {"series": "Co-polar, elevation", "theta": 47.8, "dB": -12.7}, {"series": "Co-polar, elevation", "theta": 50, "dB": -13.1}, {"series": "Co-polar, elevation", "theta": 52.3, "dB": -13.4}, {"series": "Co-polar, elevation", "theta": 54, "dB": -14.1}, {"series": "Co-polar, elevation", "theta": 55.7, "dB": -14.9}, {"series": "Co-polar, elevation", "theta": 58, "dB": -16}, {"series": "Co-polar, elevation", "theta": 60.2, "dB": -17.4}, {"series": "Co-polar, elevation", "theta": 62, "dB": -18.8}, {"series": "Co-polar, elevation", "theta": 63.5, "dB": -20.4}, {"series": "Co-polar, elevation", "theta": 65, "dB": -22.3}, {"series": "Co-polar, elevation", "theta": 66.3, "dB": -24}, {"series": "Co-polar, elevation", "theta": 67.7, "dB": -25.2}, {"series": "Co-polar, elevation", "theta": 69.1, "dB": -26.2}, {"series": "Co-polar, elevation", "theta": 70, "dB": -27.8}, {"series": "Co-polar, elevation", "theta": 70.8, "dB": -29.9}, {"series": "Co-polar, elevation", "theta": 71.7, "dB": -33.5}, {"series": "Co-polar, elevation", "theta": 72.5, "dB": -36.5}, {"series": "Co-polar, elevation", "theta": 73.6, "dB": -39}, {"series": "Co-polar, elevation", "theta": 74.8, "dB": -40.9}, {"series": "Co-polar, elevation", "theta": 76, "dB": -42.5}, {"series": "Co-polar, elevation", "theta": 77, "dB": -43.8}, {"series": "Co-polar, elevation", "theta": 77.6, "dB": -37.2}, {"series": "Co-polar, elevation", "theta": 78.1, "dB": -28.4}, {"series": "Co-polar, elevation", "theta": 79.2, "dB": -27}, {"series": "Co-polar, elevation", "theta": 80.4, "dB": -26.2}, {"series": "Co-polar, elevation", "theta": 81.5, "dB": -25.3}, {"series": "Co-polar, elevation", "theta": 82.6, "dB": -24.8}, {"series": "Co-polar, elevation", "theta": 84.3, "dB": -26}, {"series": "Co-polar, elevation", "theta": 86, "dB": -27}, {"series": "Co-polar, elevation", "theta": 87.7, "dB": -27.6}, {"series": "Co-polar, elevation", "theta": 89.3, "dB": -28.4}, {"series": "Co-polar, elevation", "theta": 90, "dB": -28.8},

      {"series": "Cross-polar, elevation", "theta": -90, "dB": -35.7}, {"series": "Cross-polar, elevation", "theta": -89.3, "dB": -38}, {"series": "Cross-polar, elevation", "theta": -88.6, "dB": -40}, {"series": "Cross-polar, elevation", "theta": -87.5, "dB": -37}, {"series": "Cross-polar, elevation", "theta": -86.6, "dB": -35}, {"series": "Cross-polar, elevation", "theta": -85.6, "dB": -38}, {"series": "Cross-polar, elevation", "theta": -84.6, "dB": -41.5}, {"series": "Cross-polar, elevation", "theta": -83.2, "dB": -44}, {"series": "Cross-polar, elevation", "theta": -81.8, "dB": -45.9}, {"series": "Cross-polar, elevation", "theta": -80.5, "dB": -45.5}, {"series": "Cross-polar, elevation", "theta": -79.1, "dB": -44.5}, {"series": "Cross-polar, elevation", "theta": -78.1, "dB": -40}, {"series": "Cross-polar, elevation", "theta": -77.1, "dB": -35}, {"series": "Cross-polar, elevation", "theta": -75.7, "dB": -36.5}, {"series": "Cross-polar, elevation", "theta": -74.3, "dB": -35.7}, {"series": "Cross-polar, elevation", "theta": -73, "dB": -35.5}, {"series": "Cross-polar, elevation", "theta": -71.6, "dB": -35}, {"series": "Cross-polar, elevation", "theta": -70.3, "dB": -36.5}, {"series": "Cross-polar, elevation", "theta": -68.9, "dB": -37.9}, {"series": "Cross-polar, elevation", "theta": -67.9, "dB": -39}, {"series": "Cross-polar, elevation", "theta": -66.9, "dB": -40.1}, {"series": "Cross-polar, elevation", "theta": -65.8, "dB": -41}, {"series": "Cross-polar, elevation", "theta": -64.8, "dB": -41.5}, {"series": "Cross-polar, elevation", "theta": -63.5, "dB": -40}, {"series": "Cross-polar, elevation", "theta": -62.1, "dB": -38.6}, {"series": "Cross-polar, elevation", "theta": -60.8, "dB": -38}, {"series": "Cross-polar, elevation", "theta": -59.8, "dB": -38}, {"series": "Cross-polar, elevation", "theta": -58.6, "dB": -40}, {"series": "Cross-polar, elevation", "theta": -57.6, "dB": -43.1}, {"series": "Cross-polar, elevation", "theta": -56.8, "dB": -48}, {"series": "Cross-polar, elevation", "theta": -56, "dB": -56.2}, {"series": "Cross-polar, elevation", "theta": -55, "dB": -50}, {"series": "Cross-polar, elevation", "theta": -54.2, "dB": -46}, {"series": "Cross-polar, elevation", "theta": -53, "dB": -42}, {"series": "Cross-polar, elevation", "theta": -52, "dB": -39.4}, {"series": "Cross-polar, elevation", "theta": -50.8, "dB": -37.5}, {"series": "Cross-polar, elevation", "theta": -49.7, "dB": -36.1}, {"series": "Cross-polar, elevation", "theta": -48.6, "dB": -38.5}, {"series": "Cross-polar, elevation", "theta": -47.5, "dB": -40.9}, {"series": "Cross-polar, elevation", "theta": -46.3, "dB": -42}, {"series": "Cross-polar, elevation", "theta": -45.3, "dB": -43.1}, {"series": "Cross-polar, elevation", "theta": -44.2, "dB": -44}, {"series": "Cross-polar, elevation", "theta": -43, "dB": -44.5}, {"series": "Cross-polar, elevation", "theta": -41.3, "dB": -42.3}, {"series": "Cross-polar, elevation", "theta": -39.6, "dB": -40.1}, {"series": "Cross-polar, elevation", "theta": -38, "dB": -38.2}, {"series": "Cross-polar, elevation", "theta": -36.3, "dB": -36.5}, {"series": "Cross-polar, elevation", "theta": -34.6, "dB": -35.8}, {"series": "Cross-polar, elevation", "theta": -32.9, "dB": -35.4}, {"series": "Cross-polar, elevation", "theta": -31.2, "dB": -34.8}, {"series": "Cross-polar, elevation", "theta": -29.5, "dB": -34.3}, {"series": "Cross-polar, elevation", "theta": -27.8, "dB": -34.8}, {"series": "Cross-polar, elevation", "theta": -26.2, "dB": -35.4}, {"series": "Cross-polar, elevation", "theta": -24.5, "dB": -36.3}, {"series": "Cross-polar, elevation", "theta": -22.8, "dB": -37.2}, {"series": "Cross-polar, elevation", "theta": -21.1, "dB": -38.2}, {"series": "Cross-polar, elevation", "theta": -19.4, "dB": -39.1}, {"series": "Cross-polar, elevation", "theta": -17.8, "dB": -36.8}, {"series": "Cross-polar, elevation", "theta": -16.1, "dB": -34.3}, {"series": "Cross-polar, elevation", "theta": -14.5, "dB": -32}, {"series": "Cross-polar, elevation", "theta": -12.8, "dB": -29.9}, {"series": "Cross-polar, elevation", "theta": -10.5, "dB": -28.5}, {"series": "Cross-polar, elevation", "theta": -8.2, "dB": -27.3}, {"series": "Cross-polar, elevation", "theta": -6, "dB": -26.7}, {"series": "Cross-polar, elevation", "theta": -3.8, "dB": -26.2}, {"series": "Cross-polar, elevation", "theta": -1.5, "dB": -26}, {"series": "Cross-polar, elevation", "theta": 0.7, "dB": -25.9}, {"series": "Cross-polar, elevation", "theta": 3, "dB": -25.6}, {"series": "Cross-polar, elevation", "theta": 5, "dB": -25.5}, {"series": "Cross-polar, elevation", "theta": 7, "dB": -25.8}, {"series": "Cross-polar, elevation", "theta": 9, "dB": -26.5}, {"series": "Cross-polar, elevation", "theta": 11, "dB": -27.5}, {"series": "Cross-polar, elevation", "theta": 12.7, "dB": -28.5}, {"series": "Cross-polar, elevation", "theta": 14.2, "dB": -29.9}, {"series": "Cross-polar, elevation", "theta": 15.9, "dB": -31.8}, {"series": "Cross-polar, elevation", "theta": 17.6, "dB": -33.6}, {"series": "Cross-polar, elevation", "theta": 19.8, "dB": -35.8}, {"series": "Cross-polar, elevation", "theta": 22, "dB": -38}, {"series": "Cross-polar, elevation", "theta": 23.2, "dB": -39.8}, {"series": "Cross-polar, elevation", "theta": 24.3, "dB": -41.6}, {"series": "Cross-polar, elevation", "theta": 25.4, "dB": -42.8}, {"series": "Cross-polar, elevation", "theta": 26.5, "dB": -43.1}, {"series": "Cross-polar, elevation", "theta": 27.3, "dB": -41}, {"series": "Cross-polar, elevation", "theta": 28.2, "dB": -38.7}, {"series": "Cross-polar, elevation", "theta": 29.6, "dB": -36.8}, {"series": "Cross-polar, elevation", "theta": 31, "dB": -35}, {"series": "Cross-polar, elevation", "theta": 32.7, "dB": -33.8}, {"series": "Cross-polar, elevation", "theta": 34.4, "dB": -32.8}, {"series": "Cross-polar, elevation", "theta": 36.1, "dB": -33}, {"series": "Cross-polar, elevation", "theta": 37.8, "dB": -33.2}, {"series": "Cross-polar, elevation", "theta": 40.5, "dB": -32.3}, {"series": "Cross-polar, elevation", "theta": 43.3, "dB": -31.4}, {"series": "Cross-polar, elevation", "theta": 45, "dB": -31.2}, {"series": "Cross-polar, elevation", "theta": 46.7, "dB": -31.4}, {"series": "Cross-polar, elevation", "theta": 49.5, "dB": -32.5}, {"series": "Cross-polar, elevation", "theta": 52.3, "dB": -33.6}, {"series": "Cross-polar, elevation", "theta": 54.2, "dB": -33.5}, {"series": "Cross-polar, elevation", "theta": 56.2, "dB": -33.2}, {"series": "Cross-polar, elevation", "theta": 57.6, "dB": -34}, {"series": "Cross-polar, elevation", "theta": 59, "dB": -35}, {"series": "Cross-polar, elevation", "theta": 60.2, "dB": -34.7}, {"series": "Cross-polar, elevation", "theta": 61.3, "dB": -34.3}, {"series": "Cross-polar, elevation", "theta": 62.4, "dB": -35.4}, {"series": "Cross-polar, elevation", "theta": 63.5, "dB": -36.5}, {"series": "Cross-polar, elevation", "theta": 64.9, "dB": -37.2}, {"series": "Cross-polar, elevation", "theta": 66.3, "dB": -38}, {"series": "Cross-polar, elevation", "theta": 67.7, "dB": -37}, {"series": "Cross-polar, elevation", "theta": 69.1, "dB": -35.8}, {"series": "Cross-polar, elevation", "theta": 70.2, "dB": -38}, {"series": "Cross-polar, elevation", "theta": 71.4, "dB": -40.1}, {"series": "Cross-polar, elevation", "theta": 72.2, "dB": -41.6}, {"series": "Cross-polar, elevation", "theta": 73.1, "dB": -43.1}, {"series": "Cross-polar, elevation", "theta": 74.5, "dB": -43.5}, {"series": "Cross-polar, elevation", "theta": 75.9, "dB": -43.8}, {"series": "Cross-polar, elevation", "theta": 77.6, "dB": -43.8}, {"series": "Cross-polar, elevation", "theta": 79.3, "dB": -43.8}, {"series": "Cross-polar, elevation", "theta": 79.9, "dB": -50}, {"series": "Cross-polar, elevation", "theta": 80.4, "dB": -57.7}, {"series": "Cross-polar, elevation", "theta": 81, "dB": -54}, {"series": "Cross-polar, elevation", "theta": 81.5, "dB": -50.4}, {"series": "Cross-polar, elevation", "theta": 82.3, "dB": -49.5}, {"series": "Cross-polar, elevation", "theta": 83.2, "dB": -48.9}, {"series": "Cross-polar, elevation", "theta": 83.8, "dB": -50.5}, {"series": "Cross-polar, elevation", "theta": 84.3, "dB": -51.9}, {"series": "Cross-polar, elevation", "theta": 84.9, "dB": -49}, {"series": "Cross-polar, elevation", "theta": 85.4, "dB": -46}, {"series": "Cross-polar, elevation", "theta": 86, "dB": -49.5}, {"series": "Cross-polar, elevation", "theta": 86.5, "dB": -53.3}, {"series": "Cross-polar, elevation", "theta": 87.3, "dB": -48}, {"series": "Cross-polar, elevation", "theta": 88.2, "dB": -43.1}, {"series": "Cross-polar, elevation", "theta": 89, "dB": -41}, {"series": "Cross-polar, elevation", "theta": 89.9, "dB": -38.7}
    ]
  },
  "vconcat": [
    {
      "width": 535, "height": 387,
      "data": {"name": "a"},
      "title": {"text": "(a)\u00a0\u00a0 H-port\u00a0\u00a0 is\u00a0\u00a0 excited", "orient": "bottom", "anchor": "middle", "dx": -33, "offset": 28, "font": "Liberation Serif", "fontSize": 22, "fontWeight": "normal", "color": "#000"},
      "mark": {"type": "line", "color": "#000", "strokeWidth": 2.8, "strokeJoin": "round"},
      "encoding": {
        "x": {"field": "theta", "type": "quantitative", "scale": {"domain": [-90, 90], "nice": false}, "axis": {"values": [-90, -60, -30, 0, 30, 60, 90], "title": "theta angle [degree]"}},
        "y": {"field": "dB", "type": "quantitative", "scale": {"domain": [-80, 5], "nice": false, "zero": false}, "axis": {"values": [-80, -70, -60, -50, -40, -30, -20, -10, 0], "title": "amplitude [dB]"}},
        "strokeDash": {"field": "series", "type": "nominal",
          "scale": {"domain": ["Co-polar, azimuth", "Cross-polar, azimuth", "Co-polar, elevation", "Cross-polar, elevation"], "range": [[1, 0], [3, 4], [12, 5], [12, 4, 3, 4, 3, 4]]},
          "legend": {"title": null, "orient": "bottom-left", "offset": 5, "padding": 10, "strokeColor": "#000", "fillColor": "#fff", "symbolType": "stroke", "symbolSize": 5625, "symbolStrokeWidth": 3.5, "symbolStrokeColor": "#000", "clipHeight": 16, "rowPadding": 4.3, "labelFont": "Liberation Sans", "labelFontSize": 16, "labelColor": "#000", "labelOffset": 14, "labelLimit": 0}}
      }
    },
    {
      "width": 535, "height": 387,
      "data": {"name": "b"},
      "title": {"text": "(b)\u00a0\u00a0 V-port\u00a0\u00a0 is\u00a0\u00a0 excited", "orient": "bottom", "anchor": "middle", "dx": -33, "offset": 28, "font": "Liberation Serif", "fontSize": 22, "fontWeight": "normal", "color": "#000"},
      "mark": {"type": "line", "color": "#000", "strokeWidth": 2.8, "strokeJoin": "round"},
      "encoding": {
        "x": {"field": "theta", "type": "quantitative", "scale": {"domain": [-90, 90], "nice": false}, "axis": {"values": [-90, -60, -30, 0, 30, 60, 90], "title": "theta angle [degree]"}},
        "y": {"field": "dB", "type": "quantitative", "scale": {"domain": [-80, 5], "nice": false, "zero": false}, "axis": {"values": [-80, -70, -60, -50, -40, -30, -20, -10, 0], "title": "amplitude [dB]"}},
        "strokeDash": {"field": "series", "type": "nominal",
          "scale": {"domain": ["Co-polar, azimuth", "Cross-polar, azimuth", "Co-polar, elevation", "Cross-polar, elevation"], "range": [[1, 0], [3, 4], [12, 5], [12, 4, 3, 4, 3, 4]]},
          "legend": {"title": null, "orient": "bottom-left", "offset": 5, "padding": 10, "strokeColor": "#000", "fillColor": "#fff", "symbolType": "stroke", "symbolSize": 5625, "symbolStrokeWidth": 3.5, "symbolStrokeColor": "#000", "clipHeight": 16, "rowPadding": 4.3, "labelFont": "Liberation Sans", "labelFontSize": 16, "labelColor": "#000", "labelOffset": 14, "labelLimit": 0}}
      }
    }
  ],
  "resolve": {"scale": {"strokeDash": "independent"}, "legend": {"strokeDash": "independent"}}
}
